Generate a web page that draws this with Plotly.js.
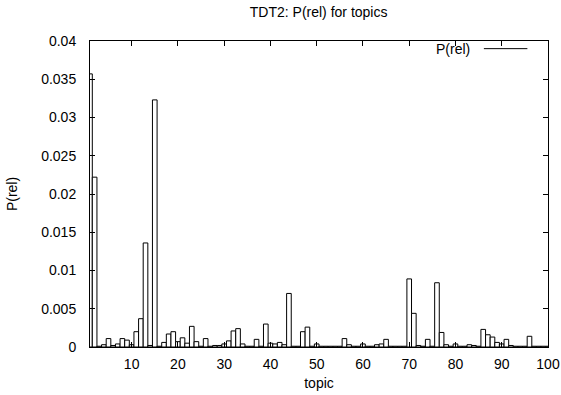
<!DOCTYPE html>
<html>
<head>
<meta charset="utf-8">
<script src="https://cdn.plot.ly/plotly-3.0.1.min.js"></script>
<style>
html,body{margin:0;padding:0;background:#fff;}
#chart{width:561px;height:395px;}
</style>
</head>
<body>
<div id="chart"></div>
<script>
var topics = [1,2,3,4,5,6,7,8,9,10,11,12,13,14,15,16,17,18,19,20,
  21,22,23,24,25,26,27,28,29,30,31,32,33,34,35,36,37,38,39,40,
  41,42,43,44,45,46,47,48,49,50,51,52,53,54,55,56,57,58,59,60,
  61,62,63,64,65,66,67,68,69,70,71,72,73,74,75,76,77,78,79,80,
  81,82,83,84,85,86,87,88,89,90,91,92,93,94,95,96,97,98,99,100];
var prel = [
  0.0357,0.0222,0.0001,0.0003,0.0011,0.0002,0.0004,0.0011,0.0009,0.0003,
  0.0020,0.0037,0.0136,0.0002,0.0323,0.0001,0.0006,0.0017,0.0020,0.0007,
  0.0012,0.0005,0.0027,0.0007,0.0001,0.0011,0.0001,0.0002,0.0002,0.0004,
  0.0008,0.0021,0.0024,0.0004,0.0001,0.0001,0.0010,0.0001,0.0030,0.0005,
  0.0004,0.0006,0.0003,0.0070,0.0001,0.0001,0.0020,0.0026,0.0001,0.0004,
  0.0001,0.0001,0.0001,0.0001,0.0001,0.0011,0.0003,0.0001,0.0001,0.0004,
  0.0001,0.0001,0.0003,0.0004,0.0010,0.0001,0.0001,0.0001,0.0001,0.0089,
  0.0044,0.0002,0.0001,0.0010,0.0001,0.0084,0.0019,0.0003,0.0001,0.0004,
  0.0001,0.0001,0.0003,0.0002,0.0001,0.0023,0.0016,0.0013,0.0006,0.0004,
  0.0010,0.0002,0.0001,0.0001,0.0001,0.0014,0.0001,0.0001,0.0001,0.0001];
var xTickVals = [10,20,30,40,50,60,70,80,90,100];
var xTickText = ["10","20","30","40","50","60","70","80","90","100"];
var yTickVals = [0,0.005,0.01,0.015,0.02,0.025,0.03,0.035,0.04];
var yTickText = ["0","0.005","0.01","0.015","0.02","0.025","0.03","0.035","0.04"];
var seriesName = "P(rel)";

var font = {family: "Liberation Sans, Arial, sans-serif", size: 14, color: "#000"};

var trace = {
  type: "bar",
  x: topics,
  y: prel,
  width: 1,
  name: seriesName,
  marker: {color: "#ffffff", line: {color: "#000000", width: 1}},
  showlegend: false,
  hoverinfo: "x+y"
};

var layout = {
  width: 561, height: 395,
  margin: {l: 90, r: 13, t: 41, b: 48, pad: 0},
  paper_bgcolor: "#fff", plot_bgcolor: "#fff",
  font: font,
  bargap: 0,
  showlegend: false,
  title: {text: "TDT2: P(rel) for topics", font: font, x: 0.568, xanchor: "center", y: 0.97, yanchor: "middle"},
  xaxis: {
    range: [1, 100],
    tickmode: "array", tickvals: xTickVals, ticktext: xTickText,
    ticks: "inside", ticklen: 5, tickcolor: "#000", tickwidth: 1,
    showline: true, linecolor: "#000", linewidth: 1, mirror: "ticks",
    showgrid: false, zeroline: false,
    ticklabelstandoff: 4,
    tickfont: font,
    title: {text: "topic", font: font, standoff: 7}
  },
  yaxis: {
    range: [0, 0.04],
    tickmode: "array", tickvals: yTickVals, ticktext: yTickText,
    ticks: "inside", ticklen: 5, tickcolor: "#000", tickwidth: 1,
    showline: true, linecolor: "#000", linewidth: 1, mirror: "ticks",
    showgrid: false, zeroline: false,
    ticklabelstandoff: 10,
    tickfont: font,
    title: {text: "P(rel)", font: font, standoff: 20}
  },
  annotations: [{
    xref: "paper", yref: "paper", x: 0.835, y: 0.975,
    xanchor: "right", yanchor: "middle", showarrow: false,
    text: seriesName, font: font
  }],
  shapes: [{
    type: "line", xref: "paper", yref: "paper",
    x0: 0.86, x1: 0.955, y0: 0.975, y1: 0.975,
    line: {color: "#000", width: 1}
  }]
};

Plotly.newPlot("chart", [trace], layout, {displayModeBar: false, staticPlot: true});
</script>
</body>
</html>
